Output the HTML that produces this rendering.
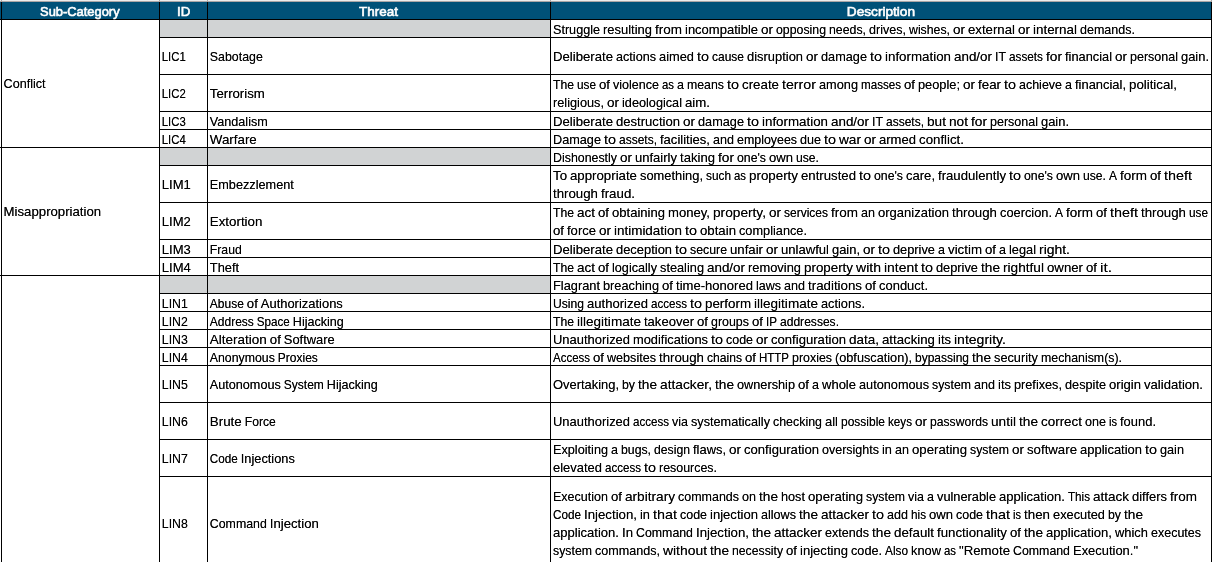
<!DOCTYPE html>
<html lang="en"><head><meta charset="utf-8"><title>Threat table</title><style>
html,body{margin:0;padding:0;background:#fff;}
body{width:1212px;height:562px;overflow:hidden;position:relative;font-family:"Liberation Sans",Arial,sans-serif;}
.b{position:absolute;}
.t,.h{position:absolute;white-space:nowrap;line-height:18px;height:18px;color:#000;font-size:13.3px;transform-origin:0 0;-webkit-text-stroke:0;text-shadow:0 0 0 rgba(0,0,0,.7);}
.t .w{display:inline-block;white-space:pre;transform-origin:0 0;line-height:18px;height:18px;vertical-align:top;}
.h{color:#fff;font-weight:normal;font-size:13.0px;-webkit-text-stroke:0.6px #fff;text-shadow:none;}
</style></head>
<body>
<div class="grid" aria-hidden="true">
<div class="b" style="left:0px;top:0px;width:1212px;height:1px;background:#ececec"></div>
<div class="b" style="left:0px;top:1px;width:1212px;height:1px;background:#aaa6a6"></div>
<div class="b" style="left:1px;top:0px;width:1px;height:1px;background:#a6a6a6"></div>
<div class="b" style="left:159px;top:0px;width:1px;height:1px;background:#a6a6a6"></div>
<div class="b" style="left:207px;top:0px;width:1px;height:1px;background:#a6a6a6"></div>
<div class="b" style="left:550px;top:0px;width:1px;height:1px;background:#a6a6a6"></div>
<div class="b" style="left:1211px;top:0px;width:1px;height:1px;background:#a6a6a6"></div>
<div class="b" style="left:0px;top:2px;width:1212px;height:17px;background:#005178"></div>
<div class="b" style="left:160px;top:20px;width:390px;height:17px;background:#d1d3d4"></div>
<div class="b" style="left:160px;top:148px;width:390px;height:17px;background:#d1d3d4"></div>
<div class="b" style="left:160px;top:276px;width:390px;height:17px;background:#d1d3d4"></div>
<div class="b" style="left:0px;top:19px;width:1212px;height:1px;background:#000"></div>
<div class="b" style="left:159px;top:37px;width:1053px;height:1px;background:#000"></div>
<div class="b" style="left:159px;top:74px;width:1053px;height:1px;background:#000"></div>
<div class="b" style="left:159px;top:111px;width:1053px;height:1px;background:#000"></div>
<div class="b" style="left:159px;top:129px;width:1053px;height:1px;background:#000"></div>
<div class="b" style="left:0px;top:147px;width:1212px;height:1px;background:#000"></div>
<div class="b" style="left:159px;top:165px;width:1053px;height:1px;background:#000"></div>
<div class="b" style="left:159px;top:202px;width:1053px;height:1px;background:#000"></div>
<div class="b" style="left:159px;top:239px;width:1053px;height:1px;background:#000"></div>
<div class="b" style="left:159px;top:257px;width:1053px;height:1px;background:#000"></div>
<div class="b" style="left:0px;top:275px;width:1212px;height:1px;background:#000"></div>
<div class="b" style="left:159px;top:293px;width:1053px;height:1px;background:#000"></div>
<div class="b" style="left:159px;top:311px;width:1053px;height:1px;background:#000"></div>
<div class="b" style="left:159px;top:329px;width:1053px;height:1px;background:#000"></div>
<div class="b" style="left:159px;top:347px;width:1053px;height:1px;background:#000"></div>
<div class="b" style="left:159px;top:365px;width:1053px;height:1px;background:#000"></div>
<div class="b" style="left:159px;top:402px;width:1053px;height:1px;background:#000"></div>
<div class="b" style="left:159px;top:439px;width:1053px;height:1px;background:#000"></div>
<div class="b" style="left:159px;top:476px;width:1053px;height:1px;background:#000"></div>
<div class="b" style="left:1px;top:2px;width:1px;height:560px;background:#000"></div>
<div class="b" style="left:159px;top:2px;width:1px;height:560px;background:#000"></div>
<div class="b" style="left:207px;top:2px;width:1px;height:560px;background:#000"></div>
<div class="b" style="left:550px;top:2px;width:1px;height:560px;background:#000"></div>
<div class="b" style="left:1211px;top:2px;width:1px;height:560px;background:#000"></div>
</div>
<div class="head">
<span class="h" id="t1" style="left:40px;top:3px;transform:translateX(0.05px) scaleX(0.9919)">Sub-Category</span>
<span class="h" id="t2" style="left:177px;top:3px;transform:translateX(0.03px) scaleX(1.0250)">ID</span>
<span class="h" id="t3" style="left:359px;top:3px;transform:translateX(0.10px) scaleX(1.0331)">Threat</span>
<span class="h" id="t4" style="left:846px;top:3px;transform:translateX(0.81px) scaleX(1.0494)">Description</span>
</div>
<div class="cells">
<span class="t" id="t5" style="left:3px;top:75px"><span class="w" style="width:42px;transform:translateX(0.60px) scaleX(0.9471)">Conflict</span></span>
<span class="t" id="t6" style="left:3px;top:203px"><span class="w" style="width:97px;transform:translateX(0.60px) scaleX(0.9923)">Misappropriation</span></span>
<span class="t" id="t7" style="left:553px;top:21px"><span class="w" style="width:50px;transform:scaleX(0.9489)">Struggle </span><span class="w" style="width:52px;transform:scaleX(0.9748)">resulting </span><span class="w" style="width:30px;transform:scaleX(1.0147)">from </span><span class="w" style="width:76px;transform:scaleX(0.9778)">incompatible </span><span class="w" style="width:15px;transform:scaleX(1.0145)">or </span><span class="w" style="width:53px;transform:scaleX(0.9262)">opposing </span><span class="w" style="width:40px;transform:scaleX(0.9264)">needs, </span><span class="w" style="width:40px;transform:scaleX(0.9446)">drives, </span><span class="w" style="width:44px;transform:scaleX(0.9246)">wishes, </span><span class="w" style="width:15px;transform:scaleX(1.0145)">or </span><span class="w" style="width:50px;transform:scaleX(0.9934)">external </span><span class="w" style="width:15px;transform:scaleX(1.0145)">or </span><span class="w" style="width:47px;transform:scaleX(1.0086)">internal </span><span class="w" style="width:55px;transform:scaleX(0.9417)">demands.</span></span>
<span class="t" id="t8" style="left:161px;top:48px"><span class="w" style="width:24px;transform:translateX(0.80px) scaleX(0.8543)">LIC1</span></span>
<span class="t" id="t9" style="left:209px;top:48px"><span class="w" style="width:53px;transform:translateX(0.80px) scaleX(0.9308)">Sabotage</span></span>
<span class="t" id="t10" style="left:553px;top:48px"><span class="w" style="width:63px;transform:scaleX(0.9899)">Deliberate </span><span class="w" style="width:43px;transform:scaleX(0.9492)">actions </span><span class="w" style="width:38px;transform:scaleX(0.9664)">aimed </span><span class="w" style="width:15px;transform:scaleX(1.0817)">to </span><span class="w" style="width:35px;transform:scaleX(0.9018)">cause </span><span class="w" style="width:59px;transform:scaleX(0.9713)">disruption </span><span class="w" style="width:15px;transform:scaleX(1.0145)">or </span><span class="w" style="width:49px;transform:scaleX(0.9571)">damage </span><span class="w" style="width:15px;transform:scaleX(1.0817)">to </span><span class="w" style="width:69px;transform:scaleX(1.0033)">information </span><span class="w" style="width:41px;transform:scaleX(1.0079)">and/or </span><span class="w" style="width:14px;transform:scaleX(0.9300)">IT </span><span class="w" style="width:37px;transform:scaleX(0.8846)">assets </span><span class="w" style="width:19px;transform:scaleX(1.0302)">for </span><span class="w" style="width:50px;transform:scaleX(0.9632)">financial </span><span class="w" style="width:15px;transform:scaleX(1.0145)">or </span><span class="w" style="width:51px;transform:scaleX(0.9409)">personal </span><span class="w" style="width:28px;transform:scaleX(0.9707)">gain.</span></span>
<span class="t" id="t11" style="left:161px;top:85px"><span class="w" style="width:24px;transform:translateX(0.80px) scaleX(0.8543)">LIC2</span></span>
<span class="t" id="t12" style="left:209px;top:85px"><span class="w" style="width:55px;transform:translateX(0.80px) scaleX(0.9927)">Terrorism</span></span>
<span class="t" id="t13" style="left:553px;top:76px"><span class="w" style="width:24px;transform:scaleX(0.9162)">The </span><span class="w" style="width:22px;transform:scaleX(0.8857)">use </span><span class="w" style="width:14px;transform:scaleX(0.9915)">of </span><span class="w" style="width:49px;transform:scaleX(0.9427)">violence </span><span class="w" style="width:15px;transform:scaleX(0.8543)">as </span><span class="w" style="width:10px;transform:scaleX(0.9451)">a </span><span class="w" style="width:40px;transform:scaleX(0.9268)">means </span><span class="w" style="width:15px;transform:scaleX(1.0817)">to </span><span class="w" style="width:40px;transform:scaleX(1.0008)">create </span><span class="w" style="width:37px;transform:scaleX(1.0698)">terror </span><span class="w" style="width:42px;transform:scaleX(0.9589)">among </span><span class="w" style="width:43px;transform:scaleX(0.8731)">masses </span><span class="w" style="width:14px;transform:scaleX(0.9915)">of </span><span class="w" style="width:45px;transform:scaleX(0.9628)">people; </span><span class="w" style="width:15px;transform:scaleX(1.0145)">or </span><span class="w" style="width:26px;transform:scaleX(1.0034)">fear </span><span class="w" style="width:15px;transform:scaleX(1.0817)">to </span><span class="w" style="width:46px;transform:scaleX(0.9380)">achieve </span><span class="w" style="width:10px;transform:scaleX(0.9451)">a </span><span class="w" style="width:54px;transform:scaleX(0.9717)">financial, </span><span class="w" style="width:48px;transform:scaleX(0.9990)">political,</span></span>
<span class="t" id="t14" style="left:553px;top:94px"><span class="w" style="width:54px;transform:scaleX(0.9583)">religious, </span><span class="w" style="width:15px;transform:scaleX(1.0145)">or </span><span class="w" style="width:63px;transform:scaleX(0.9547)">ideological </span><span class="w" style="width:25px;transform:scaleX(0.9950)">aim.</span></span>
<span class="t" id="t15" style="left:161px;top:113px"><span class="w" style="width:24px;transform:translateX(0.80px) scaleX(0.8543)">LIC3</span></span>
<span class="t" id="t16" style="left:209px;top:113px"><span class="w" style="width:58px;transform:translateX(0.80px) scaleX(0.9491)">Vandalism</span></span>
<span class="t" id="t17" style="left:553px;top:113px"><span class="w" style="width:63px;transform:scaleX(0.9899)">Deliberate </span><span class="w" style="width:67px;transform:scaleX(0.9839)">destruction </span><span class="w" style="width:15px;transform:scaleX(1.0145)">or </span><span class="w" style="width:49px;transform:scaleX(0.9571)">damage </span><span class="w" style="width:15px;transform:scaleX(1.0817)">to </span><span class="w" style="width:69px;transform:scaleX(1.0033)">information </span><span class="w" style="width:41px;transform:scaleX(1.0079)">and/or </span><span class="w" style="width:14px;transform:scaleX(0.9300)">IT </span><span class="w" style="width:41px;transform:scaleX(0.9021)">assets, </span><span class="w" style="width:22px;transform:scaleX(1.0270)">but </span><span class="w" style="width:22px;transform:scaleX(1.0270)">not </span><span class="w" style="width:19px;transform:scaleX(1.0302)">for </span><span class="w" style="width:51px;transform:scaleX(0.9409)">personal </span><span class="w" style="width:28px;transform:scaleX(0.9707)">gain.</span></span>
<span class="t" id="t18" style="left:161px;top:131px"><span class="w" style="width:24px;transform:translateX(0.80px) scaleX(0.8543)">LIC4</span></span>
<span class="t" id="t19" style="left:209px;top:131px"><span class="w" style="width:47px;transform:translateX(0.80px) scaleX(1.0043)">Warfare</span></span>
<span class="t" id="t20" style="left:553px;top:131px"><span class="w" style="width:51px;transform:scaleX(0.9549)">Damage </span><span class="w" style="width:15px;transform:scaleX(1.0817)">to </span><span class="w" style="width:41px;transform:scaleX(0.9021)">assets, </span><span class="w" style="width:53px;transform:scaleX(0.9804)">facilities, </span><span class="w" style="width:24px;transform:scaleX(0.9465)">and </span><span class="w" style="width:63px;transform:scaleX(0.9329)">employees </span><span class="w" style="width:24px;transform:scaleX(0.9465)">due </span><span class="w" style="width:15px;transform:scaleX(1.0817)">to </span><span class="w" style="width:25px;transform:scaleX(1.0262)">war </span><span class="w" style="width:15px;transform:scaleX(1.0145)">or </span><span class="w" style="width:40px;transform:scaleX(0.9814)">armed </span><span class="w" style="width:45px;transform:scaleX(0.9979)">conflict.</span></span>
<span class="t" id="t21" style="left:553px;top:149px"><span class="w" style="width:67px;transform:scaleX(0.9311)">Dishonestly </span><span class="w" style="width:15px;transform:scaleX(1.0145)">or </span><span class="w" style="width:45px;transform:scaleX(0.9796)">unfairly </span><span class="w" style="width:38px;transform:scaleX(0.9863)">taking </span><span class="w" style="width:19px;transform:scaleX(1.0302)">for </span><span class="w" style="width:32px;transform:scaleX(0.9243)">one's </span><span class="w" style="width:27px;transform:scaleX(0.9834)">own </span><span class="w" style="width:23px;transform:scaleX(0.9149)">use.</span></span>
<span class="t" id="t22" style="left:161px;top:176px"><span class="w" style="width:29px;transform:translateX(0.80px) scaleX(0.9810)">LIM1</span></span>
<span class="t" id="t23" style="left:209px;top:176px"><span class="w" style="width:84px;transform:translateX(0.80px) scaleX(0.9551)">Embezzlement</span></span>
<span class="t" id="t24" style="left:553px;top:167px"><span class="w" style="width:17px;transform:scaleX(0.9967)">To </span><span class="w" style="width:70px;transform:scaleX(0.9958)">appropriate </span><span class="w" style="width:66px;transform:scaleX(0.9685)">something, </span><span class="w" style="width:28px;transform:scaleX(0.8899)">such </span><span class="w" style="width:15px;transform:scaleX(0.8543)">as </span><span class="w" style="width:52px;transform:scaleX(1.0045)">property </span><span class="w" style="width:58px;transform:scaleX(0.9918)">entrusted </span><span class="w" style="width:15px;transform:scaleX(1.0817)">to </span><span class="w" style="width:32px;transform:scaleX(0.9243)">one's </span><span class="w" style="width:32px;transform:scaleX(0.9810)">care, </span><span class="w" style="width:71px;transform:scaleX(0.9891)">fraudulently </span><span class="w" style="width:15px;transform:scaleX(1.0817)">to </span><span class="w" style="width:32px;transform:scaleX(0.9243)">one's </span><span class="w" style="width:27px;transform:scaleX(0.9834)">own </span><span class="w" style="width:26px;transform:scaleX(0.9149)">use. </span><span class="w" style="width:11px;transform:scaleX(0.9014)">A </span><span class="w" style="width:30px;transform:scaleX(1.0147)">form </span><span class="w" style="width:14px;transform:scaleX(0.9915)">of </span><span class="w" style="width:28px;transform:scaleX(1.0821)">theft</span></span>
<span class="t" id="t25" style="left:553px;top:185px"><span class="w" style="width:48px;transform:scaleX(0.9976)">through </span><span class="w" style="width:34px;transform:scaleX(0.9995)">fraud.</span></span>
<span class="t" id="t26" style="left:161px;top:213px"><span class="w" style="width:29px;transform:translateX(0.80px) scaleX(0.9810)">LIM2</span></span>
<span class="t" id="t27" style="left:209px;top:213px"><span class="w" style="width:52px;transform:translateX(0.80px) scaleX(1.0024)">Extortion</span></span>
<span class="t" id="t28" style="left:553px;top:204px"><span class="w" style="width:24px;transform:scaleX(0.9162)">The </span><span class="w" style="width:21px;transform:scaleX(1.0141)">act </span><span class="w" style="width:14px;transform:scaleX(0.9915)">of </span><span class="w" style="width:56px;transform:scaleX(0.9818)">obtaining </span><span class="w" style="width:45px;transform:scaleX(0.9853)">money, </span><span class="w" style="width:56px;transform:scaleX(1.0291)">property, </span><span class="w" style="width:15px;transform:scaleX(1.0145)">or </span><span class="w" style="width:47px;transform:scaleX(0.9020)">services </span><span class="w" style="width:30px;transform:scaleX(1.0147)">from </span><span class="w" style="width:17px;transform:scaleX(0.9461)">an </span><span class="w" style="width:74px;transform:scaleX(0.9799)">organization </span><span class="w" style="width:48px;transform:scaleX(0.9976)">through </span><span class="w" style="width:55px;transform:scaleX(0.9635)">coercion. </span><span class="w" style="width:11px;transform:scaleX(0.9014)">A </span><span class="w" style="width:30px;transform:scaleX(1.0147)">form </span><span class="w" style="width:14px;transform:scaleX(0.9915)">of </span><span class="w" style="width:31px;transform:scaleX(1.0821)">theft </span><span class="w" style="width:48px;transform:scaleX(0.9976)">through </span><span class="w" style="width:19px;transform:scaleX(0.8857)">use</span></span>
<span class="t" id="t29" style="left:553px;top:222px"><span class="w" style="width:14px;transform:scaleX(0.9915)">of </span><span class="w" style="width:32px;transform:scaleX(0.9810)">force </span><span class="w" style="width:15px;transform:scaleX(1.0145)">or </span><span class="w" style="width:71px;transform:scaleX(1.0109)">intimidation </span><span class="w" style="width:15px;transform:scaleX(1.0817)">to </span><span class="w" style="width:39px;transform:scaleX(0.9935)">obtain </span><span class="w" style="width:68px;transform:scaleX(0.9584)">compliance.</span></span>
<span class="t" id="t30" style="left:161px;top:241px"><span class="w" style="width:29px;transform:translateX(0.80px) scaleX(0.9810)">LIM3</span></span>
<span class="t" id="t31" style="left:209px;top:241px"><span class="w" style="width:32px;transform:translateX(0.80px) scaleX(0.9209)">Fraud</span></span>
<span class="t" id="t32" style="left:553px;top:241px"><span class="w" style="width:63px;transform:scaleX(0.9899)">Deliberate </span><span class="w" style="width:59px;transform:scaleX(0.9710)">deception </span><span class="w" style="width:15px;transform:scaleX(1.0817)">to </span><span class="w" style="width:40px;transform:scaleX(0.9268)">secure </span><span class="w" style="width:36px;transform:scaleX(0.9920)">unfair </span><span class="w" style="width:15px;transform:scaleX(1.0145)">or </span><span class="w" style="width:51px;transform:scaleX(0.9837)">unlawful </span><span class="w" style="width:31px;transform:scaleX(0.9707)">gain, </span><span class="w" style="width:15px;transform:scaleX(1.0145)">or </span><span class="w" style="width:15px;transform:scaleX(1.0817)">to </span><span class="w" style="width:45px;transform:scaleX(0.9628)">deprive </span><span class="w" style="width:10px;transform:scaleX(0.9451)">a </span><span class="w" style="width:37px;transform:scaleX(1.0005)">victim </span><span class="w" style="width:14px;transform:scaleX(0.9915)">of </span><span class="w" style="width:10px;transform:scaleX(0.9451)">a </span><span class="w" style="width:30px;transform:scaleX(0.9611)">legal </span><span class="w" style="width:31px;transform:scaleX(1.0486)">right.</span></span>
<span class="t" id="t33" style="left:161px;top:259px"><span class="w" style="width:29px;transform:translateX(0.80px) scaleX(0.9810)">LIM4</span></span>
<span class="t" id="t34" style="left:209px;top:259px"><span class="w" style="width:30px;transform:translateX(0.80px) scaleX(0.9649)">Theft</span></span>
<span class="t" id="t35" style="left:553px;top:259px"><span class="w" style="width:24px;transform:scaleX(0.9162)">The </span><span class="w" style="width:21px;transform:scaleX(1.0141)">act </span><span class="w" style="width:14px;transform:scaleX(0.9915)">of </span><span class="w" style="width:48px;transform:scaleX(0.9511)">logically </span><span class="w" style="width:47px;transform:scaleX(0.9598)">stealing </span><span class="w" style="width:41px;transform:scaleX(1.0079)">and/or </span><span class="w" style="width:56px;transform:scaleX(0.9691)">removing </span><span class="w" style="width:52px;transform:scaleX(1.0045)">property </span><span class="w" style="width:28px;transform:scaleX(1.0568)">with </span><span class="w" style="width:37px;transform:scaleX(1.0451)">intent </span><span class="w" style="width:15px;transform:scaleX(1.0817)">to </span><span class="w" style="width:45px;transform:scaleX(0.9628)">deprive </span><span class="w" style="width:22px;transform:scaleX(1.0270)">the </span><span class="w" style="width:44px;transform:scaleX(1.0270)">rightful </span><span class="w" style="width:39px;transform:scaleX(0.9940)">owner </span><span class="w" style="width:14px;transform:scaleX(0.9915)">of </span><span class="w" style="width:12px;transform:scaleX(1.1601)">it.</span></span>
<span class="t" id="t36" style="left:553px;top:277px"><span class="w" style="width:50px;transform:scaleX(0.9635)">Flagrant </span><span class="w" style="width:59px;transform:scaleX(0.9588)">breaching </span><span class="w" style="width:14px;transform:scaleX(0.9915)">of </span><span class="w" style="width:80px;transform:scaleX(0.9827)">time-honored </span><span class="w" style="width:28px;transform:scaleX(0.9395)">laws </span><span class="w" style="width:24px;transform:scaleX(0.9465)">and </span><span class="w" style="width:57px;transform:scaleX(1.0006)">traditions </span><span class="w" style="width:14px;transform:scaleX(0.9915)">of </span><span class="w" style="width:49px;transform:scaleX(0.9745)">conduct.</span></span>
<span class="t" id="t37" style="left:161px;top:295px"><span class="w" style="width:26px;transform:translateX(0.80px) scaleX(0.9255)">LIN1</span></span>
<span class="t" id="t38" style="left:209px;top:295px"><span class="w" style="width:37px;transform:translateX(0.80px) scaleX(0.9018)">Abuse </span><span class="w" style="width:14px;transform:translateX(0.80px) scaleX(0.9915)">of </span><span class="w" style="width:82px;transform:translateX(0.80px) scaleX(0.9731)">Authorizations</span></span>
<span class="t" id="t39" style="left:553px;top:295px"><span class="w" style="width:34px;transform:scaleX(0.9118)">Using </span><span class="w" style="width:64px;transform:scaleX(0.9821)">authorized </span><span class="w" style="width:39px;transform:scaleX(0.8698)">access </span><span class="w" style="width:15px;transform:scaleX(1.0817)">to </span><span class="w" style="width:49px;transform:scaleX(1.0041)">perform </span><span class="w" style="width:67px;transform:scaleX(1.0187)">illegitimate </span><span class="w" style="width:44px;transform:scaleX(0.9601)">actions.</span></span>
<span class="t" id="t40" style="left:161px;top:313px"><span class="w" style="width:26px;transform:translateX(0.80px) scaleX(0.9255)">LIN2</span></span>
<span class="t" id="t41" style="left:209px;top:313px"><span class="w" style="width:47px;transform:translateX(0.80px) scaleX(0.9020)">Address </span><span class="w" style="width:36px;transform:translateX(0.80px) scaleX(0.8753)">Space </span><span class="w" style="width:51px;transform:translateX(0.80px) scaleX(0.9453)">Hijacking</span></span>
<span class="t" id="t42" style="left:553px;top:313px"><span class="w" style="width:24px;transform:scaleX(0.9162)">The </span><span class="w" style="width:67px;transform:scaleX(1.0187)">illegitimate </span><span class="w" style="width:53px;transform:scaleX(0.9804)">takeover </span><span class="w" style="width:14px;transform:scaleX(0.9915)">of </span><span class="w" style="width:41px;transform:scaleX(0.9343)">groups </span><span class="w" style="width:14px;transform:scaleX(0.9915)">of </span><span class="w" style="width:14px;transform:scaleX(0.8745)">IP </span><span class="w" style="width:59px;transform:scaleX(0.9070)">addresses.</span></span>
<span class="t" id="t43" style="left:161px;top:331px"><span class="w" style="width:26px;transform:translateX(0.80px) scaleX(0.9255)">LIN3</span></span>
<span class="t" id="t44" style="left:209px;top:331px"><span class="w" style="width:60px;transform:translateX(0.80px) scaleX(1.0145)">Alteration </span><span class="w" style="width:14px;transform:translateX(0.80px) scaleX(0.9915)">of </span><span class="w" style="width:51px;transform:translateX(0.80px) scaleX(0.9717)">Software</span></span>
<span class="t" id="t45" style="left:553px;top:331px"><span class="w" style="width:80px;transform:scaleX(0.9735)">Unauthorized </span><span class="w" style="width:78px;transform:scaleX(0.9664)">modifications </span><span class="w" style="width:15px;transform:scaleX(1.0817)">to </span><span class="w" style="width:30px;transform:scaleX(0.9361)">code </span><span class="w" style="width:15px;transform:scaleX(1.0145)">or </span><span class="w" style="width:78px;transform:scaleX(0.9850)">configuration </span><span class="w" style="width:33px;transform:scaleX(1.0143)">data, </span><span class="w" style="width:56px;transform:scaleX(0.9956)">attacking </span><span class="w" style="width:16px;transform:scaleX(0.9765)">its </span><span class="w" style="width:52px;transform:scaleX(1.0552)">integrity.</span></span>
<span class="t" id="t46" style="left:161px;top:349px"><span class="w" style="width:26px;transform:translateX(0.80px) scaleX(0.9255)">LIN4</span></span>
<span class="t" id="t47" style="left:209px;top:349px"><span class="w" style="width:68px;transform:translateX(0.80px) scaleX(0.9257)">Anonymous </span><span class="w" style="width:40px;transform:translateX(0.80px) scaleX(0.9020)">Proxies</span></span>
<span class="t" id="t48" style="left:553px;top:349px"><span class="w" style="width:40px;transform:scaleX(0.8633)">Access </span><span class="w" style="width:14px;transform:scaleX(0.9915)">of </span><span class="w" style="width:52px;transform:scaleX(0.9471)">websites </span><span class="w" style="width:48px;transform:scaleX(0.9976)">through </span><span class="w" style="width:38px;transform:scaleX(0.9106)">chains </span><span class="w" style="width:14px;transform:scaleX(0.9915)">of </span><span class="w" style="width:33px;transform:scaleX(0.8641)">HTTP </span><span class="w" style="width:43px;transform:scaleX(0.9329)">proxies </span><span class="w" style="width:80px;transform:scaleX(0.9558)">(obfuscation), </span><span class="w" style="width:57px;transform:scaleX(0.9019)">bypassing </span><span class="w" style="width:22px;transform:scaleX(1.0270)">the </span><span class="w" style="width:47px;transform:scaleX(0.9604)">security </span><span class="w" style="width:81px;transform:scaleX(0.9290)">mechanism(s).</span></span>
<span class="t" id="t49" style="left:161px;top:376px"><span class="w" style="width:26px;transform:translateX(0.80px) scaleX(0.9255)">LIN5</span></span>
<span class="t" id="t50" style="left:209px;top:376px"><span class="w" style="width:74px;transform:translateX(0.80px) scaleX(0.9508)">Autonomous </span><span class="w" style="width:43px;transform:translateX(0.80px) scaleX(0.9020)">System </span><span class="w" style="width:51px;transform:translateX(0.80px) scaleX(0.9453)">Hijacking</span></span>
<span class="t" id="t51" style="left:553px;top:376px"><span class="w" style="width:69px;transform:scaleX(0.9706)">Overtaking, </span><span class="w" style="width:16px;transform:scaleX(0.9255)">by </span><span class="w" style="width:22px;transform:scaleX(1.0270)">the </span><span class="w" style="width:55px;transform:scaleX(1.0345)">attacker, </span><span class="w" style="width:22px;transform:scaleX(1.0270)">the </span><span class="w" style="width:61px;transform:scaleX(0.9569)">ownership </span><span class="w" style="width:14px;transform:scaleX(0.9915)">of </span><span class="w" style="width:10px;transform:scaleX(0.9451)">a </span><span class="w" style="width:37px;transform:scaleX(0.9784)">whole </span><span class="w" style="width:73px;transform:scaleX(0.9564)">autonomous </span><span class="w" style="width:42px;transform:scaleX(0.9258)">system </span><span class="w" style="width:24px;transform:scaleX(0.9465)">and </span><span class="w" style="width:16px;transform:scaleX(0.9765)">its </span><span class="w" style="width:51px;transform:scaleX(0.9549)">prefixes, </span><span class="w" style="width:44px;transform:scaleX(0.9559)">despite </span><span class="w" style="width:35px;transform:scaleX(0.9837)">origin </span><span class="w" style="width:59px;transform:scaleX(0.9854)">validation.</span></span>
<span class="t" id="t52" style="left:161px;top:413px"><span class="w" style="width:26px;transform:translateX(0.80px) scaleX(0.9255)">LIN6</span></span>
<span class="t" id="t53" style="left:209px;top:413px"><span class="w" style="width:35px;transform:translateX(0.80px) scaleX(1.0064)">Brute </span><span class="w" style="width:31px;transform:translateX(0.80px) scaleX(0.9118)">Force</span></span>
<span class="t" id="t54" style="left:553px;top:413px"><span class="w" style="width:80px;transform:scaleX(0.9735)">Unauthorized </span><span class="w" style="width:39px;transform:scaleX(0.8698)">access </span><span class="w" style="width:19px;transform:scaleX(0.9412)">via </span><span class="w" style="width:82px;transform:scaleX(0.9545)">systematically </span><span class="w" style="width:52px;transform:scaleX(0.9336)">checking </span><span class="w" style="width:16px;transform:scaleX(0.9765)">all </span><span class="w" style="width:47px;transform:scaleX(0.9017)">possible </span><span class="w" style="width:27px;transform:scaleX(0.8777)">keys </span><span class="w" style="width:15px;transform:scaleX(1.0145)">or </span><span class="w" style="width:61px;transform:scaleX(0.9125)">passwords </span><span class="w" style="width:28px;transform:scaleX(1.0243)">until </span><span class="w" style="width:22px;transform:scaleX(1.0270)">the </span><span class="w" style="width:44px;transform:scaleX(1.0088)">correct </span><span class="w" style="width:24px;transform:scaleX(0.9465)">one </span><span class="w" style="width:11px;transform:scaleX(0.8325)">is </span><span class="w" style="width:36px;transform:scaleX(0.9734)">found.</span></span>
<span class="t" id="t55" style="left:161px;top:450px"><span class="w" style="width:26px;transform:translateX(0.80px) scaleX(0.9255)">LIN7</span></span>
<span class="t" id="t56" style="left:209px;top:450px"><span class="w" style="width:31px;transform:translateX(0.80px) scaleX(0.8806)">Code </span><span class="w" style="width:54px;transform:translateX(0.80px) scaleX(0.9611)">Injections</span></span>
<span class="t" id="t57" style="left:553px;top:441px"><span class="w" style="width:58px;transform:scaleX(0.9539)">Exploiting </span><span class="w" style="width:10px;transform:scaleX(0.9451)">a </span><span class="w" style="width:33px;transform:scaleX(0.9222)">bugs, </span><span class="w" style="width:39px;transform:scaleX(0.9187)">design </span><span class="w" style="width:36px;transform:scaleX(0.9706)">flaws, </span><span class="w" style="width:15px;transform:scaleX(1.0145)">or </span><span class="w" style="width:78px;transform:scaleX(0.9850)">configuration </span><span class="w" style="width:60px;transform:scaleX(0.9404)">oversights </span><span class="w" style="width:13px;transform:scaleX(0.9653)">in </span><span class="w" style="width:17px;transform:scaleX(0.9461)">an </span><span class="w" style="width:58px;transform:scaleX(0.9918)">operating </span><span class="w" style="width:42px;transform:scaleX(0.9258)">system </span><span class="w" style="width:15px;transform:scaleX(1.0145)">or </span><span class="w" style="width:53px;transform:scaleX(0.9947)">software </span><span class="w" style="width:65px;transform:scaleX(0.9752)">application </span><span class="w" style="width:15px;transform:scaleX(1.0817)">to </span><span class="w" style="width:24px;transform:scaleX(0.9546)">gain</span></span>
<span class="t" id="t58" style="left:553px;top:459px"><span class="w" style="width:52px;transform:scaleX(0.9745)">elevated </span><span class="w" style="width:39px;transform:scaleX(0.8698)">access </span><span class="w" style="width:15px;transform:scaleX(1.0817)">to </span><span class="w" style="width:58px;transform:scaleX(0.9343)">resources.</span></span>
<span class="t" id="t59" style="left:161px;top:515px"><span class="w" style="width:26px;transform:translateX(0.80px) scaleX(0.9255)">LIN8</span></span>
<span class="t" id="t60" style="left:209px;top:515px"><span class="w" style="width:60px;transform:translateX(0.80px) scaleX(0.9292)">Command </span><span class="w" style="width:49px;transform:translateX(0.80px) scaleX(0.9893)">Injection</span></span>
<span class="t" id="t61" style="left:553px;top:488px"><span class="w" style="width:58px;transform:scaleX(0.9417)">Execution </span><span class="w" style="width:14px;transform:scaleX(0.9915)">of </span><span class="w" style="width:53px;transform:scaleX(1.0250)">arbitrary </span><span class="w" style="width:64px;transform:scaleX(0.9380)">commands </span><span class="w" style="width:17px;transform:scaleX(0.9461)">on </span><span class="w" style="width:22px;transform:scaleX(1.0270)">the </span><span class="w" style="width:27px;transform:scaleX(0.9546)">host </span><span class="w" style="width:58px;transform:scaleX(0.9918)">operating </span><span class="w" style="width:42px;transform:scaleX(0.9258)">system </span><span class="w" style="width:19px;transform:scaleX(0.9412)">via </span><span class="w" style="width:10px;transform:scaleX(0.9451)">a </span><span class="w" style="width:62px;transform:scaleX(0.9615)">vulnerable </span><span class="w" style="width:69px;transform:scaleX(0.9810)">application. </span><span class="w" style="width:25px;transform:scaleX(0.8756)">This </span><span class="w" style="width:39px;transform:scaleX(1.0145)">attack </span><span class="w" style="width:38px;transform:scaleX(0.9726)">differs </span><span class="w" style="width:27px;transform:scaleX(1.0147)">from</span></span>
<span class="t" id="t62" style="left:553px;top:506px"><span class="w" style="width:31px;transform:scaleX(0.8806)">Code </span><span class="w" style="width:56px;transform:scaleX(0.9956)">Injection, </span><span class="w" style="width:13px;transform:scaleX(0.9653)">in </span><span class="w" style="width:27px;transform:scaleX(1.0817)">that </span><span class="w" style="width:30px;transform:scaleX(0.9361)">code </span><span class="w" style="width:51px;transform:scaleX(0.9837)">injection </span><span class="w" style="width:38px;transform:scaleX(0.9471)">allows </span><span class="w" style="width:22px;transform:scaleX(1.0270)">the </span><span class="w" style="width:51px;transform:scaleX(1.0145)">attacker </span><span class="w" style="width:15px;transform:scaleX(1.0817)">to </span><span class="w" style="width:24px;transform:scaleX(0.9465)">add </span><span class="w" style="width:18px;transform:scaleX(0.8824)">his </span><span class="w" style="width:27px;transform:scaleX(0.9834)">own </span><span class="w" style="width:30px;transform:scaleX(0.9361)">code </span><span class="w" style="width:27px;transform:scaleX(1.0817)">that </span><span class="w" style="width:11px;transform:scaleX(0.8325)">is </span><span class="w" style="width:29px;transform:scaleX(1.0042)">then </span><span class="w" style="width:55px;transform:scaleX(0.9635)">executed </span><span class="w" style="width:16px;transform:scaleX(0.9255)">by </span><span class="w" style="width:19px;transform:scaleX(1.0270)">the</span></span>
<span class="t" id="t63" style="left:553px;top:524px"><span class="w" style="width:69px;transform:scaleX(0.9810)">application. </span><span class="w" style="width:14px;transform:scaleX(0.9915)">In </span><span class="w" style="width:60px;transform:scaleX(0.9292)">Command </span><span class="w" style="width:56px;transform:scaleX(0.9956)">Injection, </span><span class="w" style="width:22px;transform:scaleX(1.0270)">the </span><span class="w" style="width:51px;transform:scaleX(1.0145)">attacker </span><span class="w" style="width:47px;transform:scaleX(0.9446)">extends </span><span class="w" style="width:22px;transform:scaleX(1.0270)">the </span><span class="w" style="width:43px;transform:scaleX(1.0016)">default </span><span class="w" style="width:73px;transform:scaleX(0.9969)">functionality </span><span class="w" style="width:14px;transform:scaleX(0.9915)">of </span><span class="w" style="width:22px;transform:scaleX(1.0270)">the </span><span class="w" style="width:69px;transform:scaleX(0.9810)">application, </span><span class="w" style="width:36px;transform:scaleX(0.9706)">which </span><span class="w" style="width:50px;transform:scaleX(0.9392)">executes</span></span>
<span class="t" id="t64" style="left:553px;top:542px"><span class="w" style="width:42px;transform:scaleX(0.9258)">system </span><span class="w" style="width:68px;transform:scaleX(0.9457)">commands, </span><span class="w" style="width:47px;transform:scaleX(1.0441)">without </span><span class="w" style="width:22px;transform:scaleX(1.0270)">the </span><span class="w" style="width:54px;transform:scaleX(0.9200)">necessity </span><span class="w" style="width:14px;transform:scaleX(0.9915)">of </span><span class="w" style="width:51px;transform:scaleX(0.9837)">injecting </span><span class="w" style="width:34px;transform:scaleX(0.9529)">code. </span><span class="w" style="width:26px;transform:scaleX(0.8889)">Also </span><span class="w" style="width:33px;transform:scaleX(0.9663)">know </span><span class="w" style="width:15px;transform:scaleX(0.8543)">as </span><span class="w" style="width:54px;transform:scaleX(0.9945)">"Remote </span><span class="w" style="width:60px;transform:scaleX(0.9292)">Command </span><span class="w" style="width:65px;transform:scaleX(0.9729)">Execution."</span></span>
</div>
</body></html>
